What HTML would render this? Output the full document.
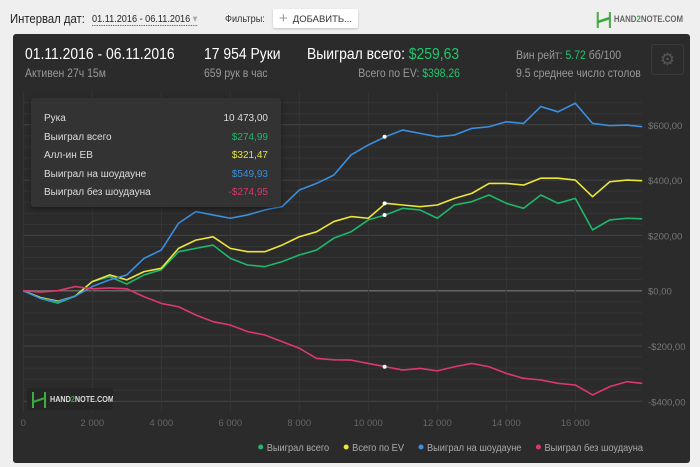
<!DOCTYPE html>
<html><head><meta charset="utf-8"><style>
body{margin:0;width:700px;height:467px;background:#efefef;font-family:"Liberation Sans","DejaVu Sans",sans-serif;position:relative;overflow:hidden}
.a{position:absolute;white-space:nowrap}
.c{transform:scaleX(0.87);transform-origin:left center}
.r{transform:scaleX(0.87);transform-origin:right center}
</style></head><body>
<div class="a c" style="left:10px;top:11px;font-size:13px;color:#222">Интервал дат:</div>
<div class="a c" style="left:92px;top:13px;font-size:10.5px;color:#222;border-bottom:1px dotted #555">01.11.2016 - 06.11.2016 <span style="color:#aaa">▾</span></div>
<div class="a c" style="left:225px;top:13px;font-size:10.5px;color:#333">Фильтры:</div>
<div class="a" style="left:273px;top:9px;width:85px;height:19px;background:#fff;border-radius:2px;box-shadow:0 1px 2px rgba(0,0,0,.2);font-size:9.5px;color:#333;line-height:19px"><span style="color:#999;font-size:15px;margin:0 5px 0 6px;vertical-align:-1px">+</span>ДОБАВИТЬ...</div>
<div class="a c" style="left:596px;top:10px;font-size:9px;font-weight:bold;color:#666;line-height:18px"><svg width="18" height="18" style="vertical-align:middle"><path d="M2 1V17M16 1V17" stroke="#5a5" stroke-width="2.5"/><path d="M2 11L16 7" stroke="#3a3" stroke-width="2.5"/></svg> HAND<span style="color:#3a3">2</span>NOTE.COM</div>
<div class="a" style="left:13px;top:34px;width:677px;height:429px;background:#2b2b2b;border-radius:3px"></div>
<div class="a c" style="left:25px;top:46px;font-size:16px;color:#fff">01.11.2016 - 06.11.2016</div>
<div class="a c" style="left:25px;top:66px;font-size:12px;color:#999">Активен 27ч 15м</div>
<div class="a c" style="left:204px;top:46px;font-size:16px;color:#fff">17 954 Руки</div>
<div class="a c" style="left:204px;top:66px;font-size:12px;color:#999">659 рук в час</div>
<div class="a c" style="left:307px;top:46px;font-size:16px;color:#fff">Выиграл всего: <span style="color:#22c56b">$259,63</span></div>
<div class="a r" style="left:312px;top:66px;width:148px;text-align:right;font-size:12px;color:#999">Всего по EV: <span style="color:#22c56b">$398,26</span></div>
<div class="a c" style="left:516px;top:48px;font-size:12px;color:#999">Вин рейт: <span style="color:#22c56b">5.72</span> бб/100</div>
<div class="a c" style="left:516px;top:66px;font-size:12px;color:#999">9.5 среднее число столов</div>
<div class="a" style="left:651px;top:44px;width:31px;height:29px;border:1px solid #3a3a3a;border-radius:3px;color:#555;font-size:17px;text-align:center;line-height:29px">⚙</div>
<svg class="a" style="left:0;top:0" width="700" height="467" id="ch"></svg>
<div class="a" style="left:27px;top:388px;width:86px;height:22px;background:#262626;font-size:8.5px;font-weight:bold;color:#ddd;line-height:22px;overflow:hidden"><svg width="16" height="18" style="vertical-align:middle;margin:0 3px 0 4px"><path d="M2 1V17M14 1V17" stroke="#4a4" stroke-width="2"/><path d="M2 11L14 7" stroke="#3a3" stroke-width="2"/></svg><span style="display:inline-block;transform:scaleX(0.85);transform-origin:left">HAND<span style="color:#3a3">2</span>NOTE.COM</span></div>
<div class="a" style="left:31px;top:98px;width:250px;height:109px;background:#333;border-radius:3px;box-shadow:0 2px 6px rgba(0,0,0,.4);font-size:10px;color:#ddd">
<div style="position:absolute;left:13px;top:12px;line-height:18.6px">Рука<br>Выиграл всего<br>Алл-ин ЕВ<br>Выиграл на шоудауне<br>Выиграл без шоудауна</div>
<div style="position:absolute;right:13px;top:12px;line-height:18.6px;text-align:right">10 473,00<br><span style="color:#1db86a">$274,99</span><br><span style="color:#e8e040">$321,47</span><br><span style="color:#3a8fe0">$549,93</span><br><span style="color:#d8386a">-$274,95</span></div></div>
<script>
const hands=[0,500,1000,1500,2000,2500,3000,3500,4000,4500,5000,5500,6000,6500,7000,7500,8000,8500,9000,9500,10000,10500,11000,11500,12000,12500,13000,13500,14000,14500,15000,15500,16000,16500,17000,17500,17940];
const wonTotal=[0,-28,-45,-20,33,51,24,57,76,141,153,165,117,93,87,105,129,147,190,213,256,274,298,292,262,310,322,346,316,298,346,316,334,220,256,262,260];
const wonEV=[0,-25,-38,-20,33,57,39,69,81,153,183,195,153,141,141,165,195,213,250,268,262,316,310,304,310,334,352,388,388,382,407,407,400,340,394,400,398];
const wonShowdown=[0,-28,-40,-20,15,39,57,117,147,244,286,274,262,274,292,304,364,388,418,491,527,557,581,569,557,563,587,593,611,605,666,647,678,605,597,599,593];
const wonNonShowdown=[0,-5,0,15,7,10,7,-22,-46,-58,-88,-112,-124,-148,-160,-184,-208,-245,-250,-251,-263,-275,-287,-281,-290,-275,-263,-275,-299,-317,-323,-335,-341,-377,-347,-329,-335];
const xTicks=[0,2000,4000,6000,8000,10000,12000,14000,16000];
const xTickLabels=["0","2 000","4 000","6 000","8 000","10 000","12 000","14 000","16 000"];
const yTicks=[600,400,200,0,-200,-400];
const yTickLabels=["$600,00","$400,00","$200,00","$0,00","-$200,00","-$400,00"];
const legendNames=["Выиграл всего","Всего по EV","Выиграл на шоудауне","Выиграл без шоудауна"];
const colors=["#1db86a","#ece63a","#3a8fe0","#dd386c"];
const X=h=>23.3+h*0.0345, Y=v=>290.7-v*55.3/200;
const s=document.getElementById('ch'),NS='http://www.w3.org/2000/svg';
function el(t,a,txt){const e=document.createElementNS(NS,t);for(const k in a)e.setAttribute(k,a[k]);if(txt!=null)e.textContent=txt;s.appendChild(e);return e;}
for(let v=-480;v<=720;v+=40){const y=Y(v);if(y<92||y>412)continue;const g=el('line',{x1:23,x2:642,y1:y,y2:y,stroke:v%200===0?(v===0?'#666':'#444'):'#353535','stroke-width':v===0?1.5:1});

}
xTicks.forEach((h,i)=>{const g=el('line',{x1:X(h),x2:X(h),y1:92,y2:412,stroke:'#363636'});


const t=el('text',{x:X(h),y:426,fill:'#666','font-size':9.5,'text-anchor':'middle'},xTickLabels[i]);

});
yTicks.forEach((v,i)=>{const t=el('text',{x:648,y:Y(v)+4,fill:'#777','font-size':9.5},yTickLabels[i]);

});
[wonTotal,wonEV,wonShowdown,wonNonShowdown].forEach((ser,i)=>{const p=el('polyline',{points:ser.map((v,j)=>X(hands[j])+','+Y(v)).join(' '),fill:'none',stroke:colors[i],'stroke-width':1.6,'stroke-linejoin':'round'});


const d=el('circle',{cx:X(10473),cy:Y(ser[21]),r:2,fill:'#fff'});

});
const legItems=[];let lx=0;
legendNames.forEach((n,i)=>{const c=el('circle',{cx:lx+3,cy:447,r:2.5,fill:colors[i]});


const t=el('text',{x:lx+9,y:451,fill:'#aaa','font-size':10.5},n);


const w=t.getComputedTextLength()*0.88;t.setAttribute('textLength',w);t.setAttribute('lengthAdjust','spacingAndGlyphs');
legItems.push([c,t,lx]);lx+=w+9+14;});
const total=lx-14,off=643-total;
legItems.forEach(([c,t,x])=>{c.setAttribute('cx',off+x+3);t.setAttribute('x',off+x+9);});
</script>
</body></html>
